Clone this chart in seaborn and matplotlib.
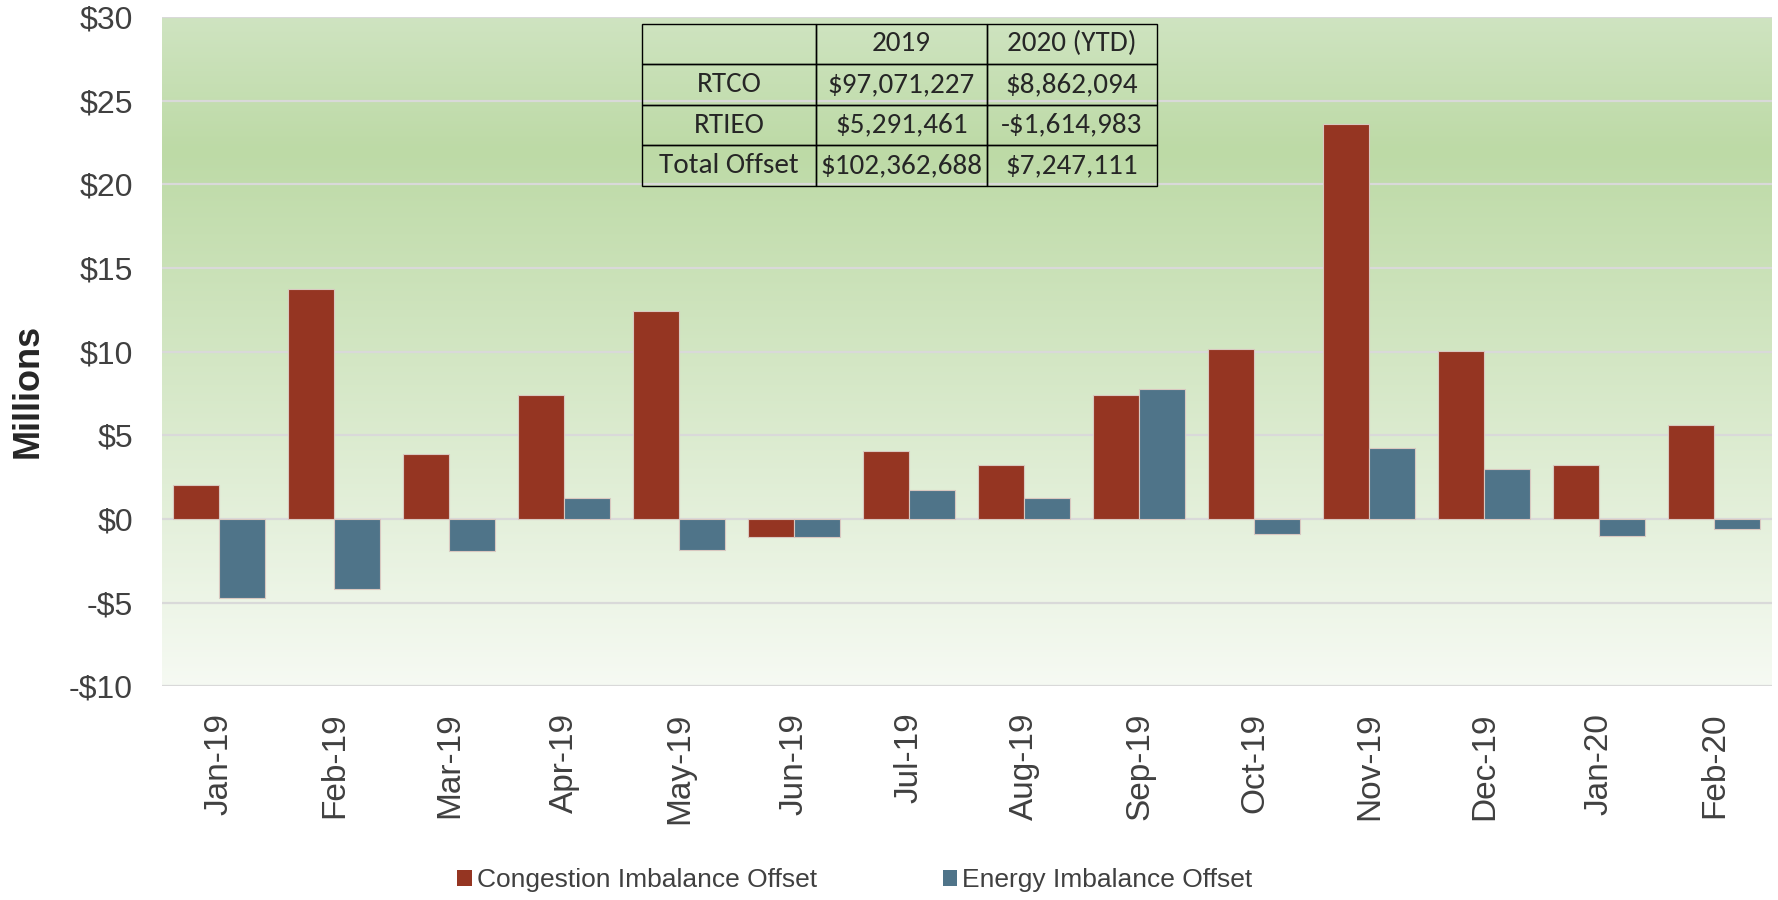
import numpy as np
import pandas as pd
import matplotlib
matplotlib.use("Agg")
import matplotlib.pyplot as plt
from matplotlib.colors import LinearSegmentedColormap
from matplotlib.patches import Patch
import seaborn as sns

# ข้อมูลรายเดือน (ล้านดอลลาร์)
months = ["Jan-19", "Feb-19", "Mar-19", "Apr-19", "May-19", "Jun-19", "Jul-19",
          "Aug-19", "Sep-19", "Oct-19", "Nov-19", "Dec-19", "Jan-20", "Feb-20"]
congestion = [2.04, 13.75, 3.90, 7.43, 12.43, -1.08, 4.04, 3.20, 7.43, 10.17,
              23.62, 10.02, 3.22, 5.64]
energy = [-4.70, -4.16, -1.94, 1.28, -1.86, -1.08, 1.74, 1.28, 7.75, -0.90,
          4.27, 2.97, -1.00, -0.61]
series_names = ["Congestion Imbalance Offset", "Energy Imbalance Offset"]

# ตารางสรุป
table_cols = ["", "2019", "2020 (YTD)"]
table_rows = [["RTCO", "$97,071,227", "$8,862,094"],
              ["RTIEO", "$5,291,461", "-$1,614,983"],
              ["Total Offset", "$102,362,688", "$7,247,111"]]

RED = "#953522"
BLUE = "#4f7489"

df = pd.DataFrame({
    "month": months * 2,
    "value": congestion + energy,
    "series": [series_names[0]] * len(months) + [series_names[1]] * len(months),
})

sns.set_theme(style="white")
plt.rcParams["font.family"] = ["Liberation Sans", "DejaVu Sans"]

fig = plt.figure(figsize=(17.78, 9), dpi=100)
ax = fig.add_axes([0.0911, 0.2374, 0.9055, 0.7437])

sns.barplot(data=df, x="month", y="value", hue="series", order=months,
            hue_order=series_names, palette=[RED, BLUE], width=0.8,
            edgecolor="#d9c8c0", linewidth=0.8, saturation=1, legend=False,
            ax=ax, zorder=3)

ax.set_xlim(-0.5, len(months) - 0.5)
ax.set_ylim(-10, 30)

# พื้นหลังไล่สีเขียว
cmap = LinearSegmentedColormap.from_list(
    "bg", [(0.0, "#cfe4c1"), (0.2, "#bddaa6"), (1.0, "#f6faf3")])
grad = np.linspace(0, 1, 256).reshape(-1, 1)
ax.imshow(grad, cmap=cmap, aspect="auto", extent=[-0.5, len(months) - 0.5, -10, 30],
          origin="upper", zorder=0)

yticks = np.arange(-10, 31, 5)
ax.set_yticks(yticks)
ax.set_yticklabels([f"${v}" if v >= 0 else f"-${-v}" for v in yticks],
                   fontsize=23, color="#404040")
for v in yticks:
    ax.axhline(v, color="#d9d9d9", lw=1.6, zorder=1)

ax.tick_params(axis="y", length=0, pad=21)
ax.tick_params(axis="x", length=0, pad=19)
plt.setp(ax.get_xticklabels(), rotation=90, fontsize=24, color="#404040")
ax.set_xlabel("")
ax.set_ylabel("")
fig.text(28 / 1778, 1 - 391 / 900, "Millions", rotation=90, ha="center", va="center",
         fontsize=26, fontweight="bold", color="#262626")
for s in ax.spines.values():
    s.set_visible(False)

# ตารางในกราฟ
tbl = ax.table(cellText=[table_cols] + table_rows, cellLoc="center",
               colWidths=[0.338, 0.332, 0.330],
               bbox=[0.298, 0.7475, 0.32, 0.2427], zorder=5)
tbl.auto_set_font_size(False)
for (r, c), cell in tbl.get_celld().items():
    cell.set_facecolor("none")
    cell.set_edgecolor("black")
    cell.set_linewidth(1.0)
    cell.get_text().set_fontsize(21)
    cell.get_text().set_family(["Carlito", "Lato", "DejaVu Sans"])

handles = [Patch(facecolor=RED, edgecolor="none"), Patch(facecolor=BLUE, edgecolor="none")]
fig.legend(handles, series_names, loc="center left", bbox_to_anchor=(457 / 1778, 1 - 880 / 900),
           ncol=2, frameon=False, fontsize=19, handlelength=0.55, handleheight=0.55,
           handletextpad=0.2, columnspacing=4.76, borderpad=0, borderaxespad=0,
           labelcolor="#404040")

fig.savefig("out.png", dpi=100)
